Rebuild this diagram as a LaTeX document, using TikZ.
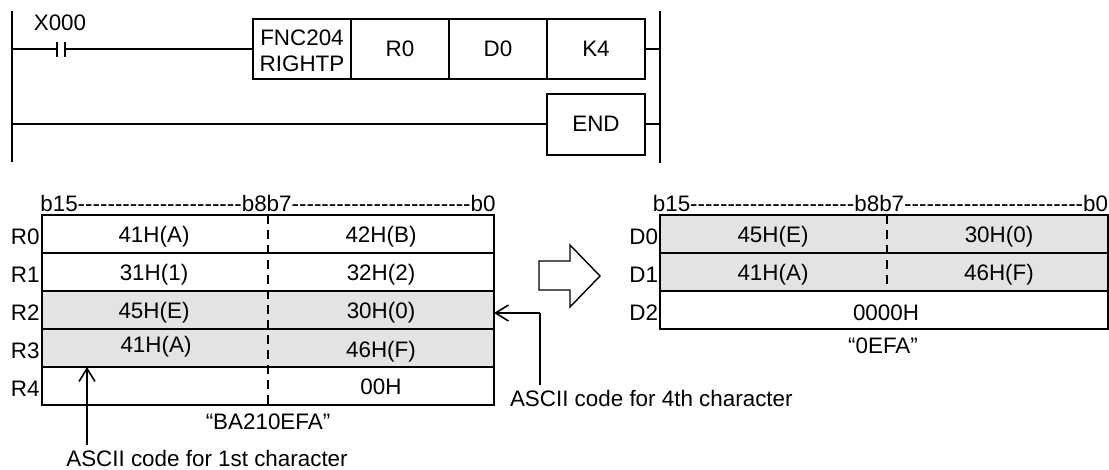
\documentclass[tikz,border=0pt]{standalone}
\usepackage{fontspec}
\usetikzlibrary{arrows.meta,calc}
\newfontfamily\arialf{Liberation Sans}
\definecolor{cellgray}{HTML}{E3E3E3}
\tikzset{
  every node/.style={font=\arialf\fontsize{22.4}{23}\selectfont,inner sep=0pt,outer sep=0pt},
  wire/.style={line width=2pt,black},
  cellbox/.style={draw=black,line width=2pt,minimum height=#1},
  cellbox/.default=38pt,
  grayrow/.style={fill=cellgray},
  midline/.style={line width=1.6pt,dash pattern=on 9pt off 6pt},
  barb/.style={line width=1.6pt,-{Straight Barb[length=13pt,width=16pt,line width=1.6pt]}},
  bigarrow/.style={draw=black,line width=1.4pt,fill=white,line join=miter},
}
\begin{document}
\begin{tikzpicture}[x=1pt,y=-1pt]
\useasboundingbox (0,0) rectangle (1109,469);
% ladder rails
\coordinate (lt) at (12,11); \coordinate (lb) at (12,162);
\coordinate (rt) at (660,11); \coordinate (rb) at (660,163);
\draw[wire] (lt) -- (lb);
\draw[wire] (rt) -- (rb);
% instruction boxes
\node[cellbox=60pt,minimum width=98pt] (fnc) at (302,49) {};
\node[cellbox=60pt,minimum width=98pt] (rz) at (400,49) {R0};
\node[cellbox=60pt,minimum width=98pt] (dz) at (498,49) {D0};
\node[cellbox=60pt,minimum width=98pt] (kf) at (596,49) {K4};
\node (fnct) at (302,38) {FNC204};
\node (fncb) at (302,64) {RIGHTP};
\node[cellbox=61pt,minimum width=98pt] (endb) at (596,124) {END};
% contact
\node (xl) at (60,23) {X000};
\coordinate (c1) at (57,49); \coordinate (c2) at (65,49);
\coordinate (c1t) at (57,42); \coordinate (c1b) at (57,57);
\coordinate (c2t) at (65,42); \coordinate (c2b) at (65,57);
\draw[wire] (c1t) -- (c1b);
\draw[wire] (c2t) -- (c2b);
\draw[wire] (lt |- c1) -- (c1);
\draw[wire] (c2) -- (fnc.west);
\draw[wire] (kf.east) -- (kf.east -| rt);
\draw[wire] (lt |- endb.west) -- (endb.west);
\draw[wire] (endb.east) -- (endb.east -| rt);
% left table
\node (lhead) at (268,203) {b15----------------------b8b7------------------------b0};
\node[cellbox=38pt,minimum width=452pt] (r0) at (268,234) {};
\node[cellbox=38pt,minimum width=452pt] (r1) at (268,272) {};
\node[cellbox=38pt,minimum width=452pt,grayrow] (r2) at (268,310) {};
\node[cellbox=38pt,minimum width=452pt,grayrow] (r3) at (268,348) {};
\node[cellbox=38pt,minimum width=452pt] (r4) at (268,386) {};
\draw[midline] (r0.north) -- (r4.south);
\foreach \n/\t/\y in {r0/R0/237,r1/R1/275,r2/R2/313,r3/R3/351,r4/R4/389}
  \node[anchor=east] (l\n) at (39.5,\y) {\t};
\node (a00) at (154,237) {41H(A)};
\node (a01) at (381,237) {42H(B)};
\node (a10) at (154,275) {31H(1)};
\node (a11) at (381,275) {32H(2)};
\node (a20) at (154,313) {45H(E)};
\node (a21) at (381,313) {30H(0)};
\node (a30) at (156,347) {41H(A)};
\node (a31) at (381,352) {46H(F)};
\node (a41) at (381,387) {00H};
\node (qa) at (268,422) {“BA210EFA”};
\node (n1) at (207,458) {ASCII code for 1st character};
\node[anchor=west] (n4) at (510,398) {ASCII code for 4th character};
\draw[barb] (n1.north -| 87,0) ++(0,-5) coordinate (a1s) -- (a1s |- r3.south);
\coordinate (a4c) at (540,313);
\draw[line width=1.6pt] (n4.north -| a4c) ++(0,-5) coordinate (a4s) -- (a4c);
\draw[barb] (a4c) -- (a4c -| r2.east);
% transfer arrow
\draw[bigarrow] (539,261) -- (570,261) -- (570,245) -- (600,276) -- (570,307) -- (570,290) -- (539,290) -- cycle;
% right table
\node (rhead) at (880.5,203) {b15----------------------b8b7------------------------b0};
\node[cellbox=38pt,minimum width=448pt,grayrow] (d0) at (884,234) {};
\node[cellbox=38pt,minimum width=448pt,grayrow] (d1) at (884,272) {};
\node[cellbox=38pt,minimum width=448pt] (d2) at (884,310) {};
\draw[midline] (d0.north -| 887,0) -- (d1.south -| 887,0);
\foreach \n/\t/\y in {d0/D0/237,d1/D1/275,d2/D2/313}
  \node[anchor=east] (l\n) at (658,\y) {\t};
\node (b00) at (773,237) {45H(E)};
\node (b01) at (999,237) {30H(0)};
\node (b10) at (773,275) {41H(A)};
\node (b11) at (999,275) {46H(F)};
\node (b2) at (886,313) {0000H};
\node (qb) at (883,346) {“0EFA”};
\end{tikzpicture}
\end{document}
